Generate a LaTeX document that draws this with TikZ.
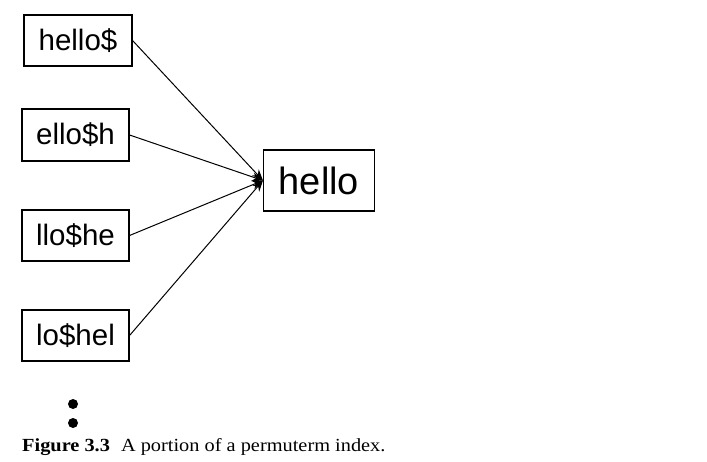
\documentclass[tikz,border=0pt]{standalone}
\usepackage{fontspec}
\setmainfont{Liberation Serif}
\newfontfamily\boxfont{Liberation Sans}
\usetikzlibrary{arrows.meta}
\begin{document}
\begin{tikzpicture}[x=1pt,y=-1pt,
  term/.style={draw, line width=1.1pt, inner sep=0pt, minimum width=107pt, minimum height=51pt,
    font=\boxfont\fontsize{29.5}{31}\selectfont},
  bigterm/.style={draw, line width=1.1pt, inner sep=0pt, minimum width=111pt, minimum height=61pt,
    font=\boxfont\fontsize{38}{40}\selectfont},
  link/.style={line width=1pt, -{Stealth[length=11pt,width=9pt]}},
  dot/.style={circle, fill=black, inner sep=0pt, minimum size=10pt}]
\useasboundingbox (0,0) rectangle (707,462);
\node[term, minimum width=108pt] (a) at (78,40.5) {hello\$};
\node[term, minimum height=52pt] (b) at (75.5,135) {ello\$h};
\node[term] (c) at (75.5,235.5) {llo\$he};
\node[term] (d) at (75.5,335.5) {lo\$hel};
\node[bigterm] (h) at (319,180.5) {hello};
\foreach \s in {a,b,c,d} \draw[link] (\s.east) -- (h.west);
\node[dot] (p1) at (73,404) {};
\node[dot] (p2) at (73,423) {};
\node[anchor=base west, inner sep=0pt, xscale=1.1, font=\fontsize{18.5}{20}\selectfont] (cap) at (22,451)
  {\textbf{Figure 3.3}\hspace{10pt}A portion of a permuterm index.};
\end{tikzpicture}
\end{document}
